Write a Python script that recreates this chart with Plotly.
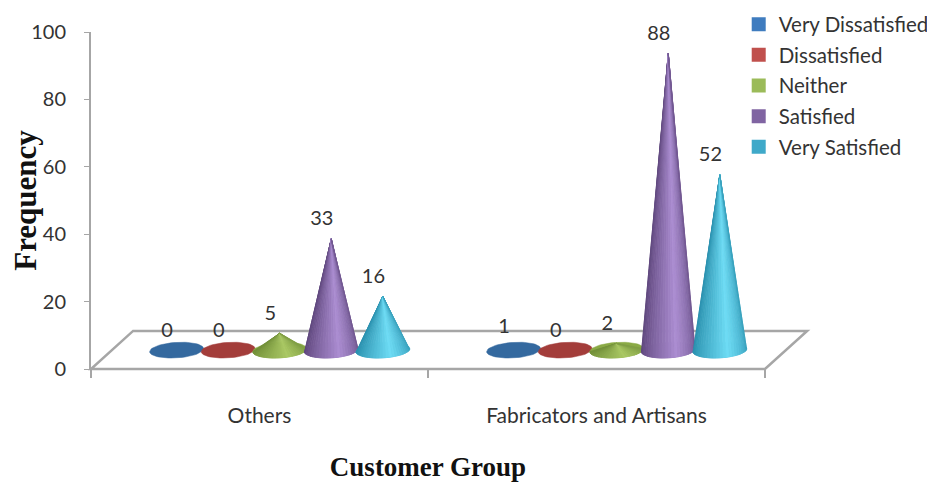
import math
import plotly.graph_objects as go

categories = ["Others", "Fabricators and Artisans"]
series_names = ["Very Dissatisfied", "Dissatisfied", "Neither", "Satisfied", "Very Satisfied"]
very_dissatisfied = [0, 1]
dissatisfied = [0, 0]
neither = [5, 2]
satisfied = [33, 88]
very_satisfied = [16, 52]
y_ticks = [0, 20, 40, 60, 80, 100]
series_values = [very_dissatisfied, dissatisfied, neither, satisfied, very_satisfied]

legend_colors = ["#3f7cbf", "#c0504d", "#9bbb59", "#8064a2", "#3fa9c9"]
dark_colors = [(45, 92, 145), (148, 52, 50), (112, 142, 56), (92, 68, 122), (38, 140, 170)]
light_colors = [(58, 112, 170), (176, 66, 62), (170, 200, 100), (172, 142, 210), (110, 220, 245)]
flat_colors = ["#34699f", "#a33d3a", "#8aaa45", "#7d5fa0", "#35a5c5"]

X_RANGE = [-0.5, 1.5]
Y_RANGE = [0, 100]
BASE = 5.6       # base centre of the cones above the axis, y units
DEPTH_Y = 11.3   # floor depth, y units
DEPTH_X = 0.125  # floor depth, category units
STEP = 0.153     # distance between cones, category units
SHEAR = 0.06     # cone group offset caused by the 3-D view
LABEL_SHIFT = -0.028
RX = 0.08
RY = 2.3
TILT = 0.45
N = 26
GRAY = "#a6a6a6"


def mix(a, b, f):
    return "rgb(%d,%d,%d)" % tuple(round(a[i] + (b[i] - a[i]) * f) for i in range(3))


fig = go.Figure()

# floor of the 3-D chart: paper-referenced so that it may leave the plot area
dx = DEPTH_X / (X_RANGE[1] - X_RANGE[0])
dy = DEPTH_Y / (Y_RANGE[1] - Y_RANGE[0])
fig.add_shape(
    type="path", xref="paper", yref="paper", layer="below",
    path=f"M 0 0 L 1 0 L {1 + dx} {dy} L {dx} {dy} Z",
    line=dict(color=GRAY, width=2.5),
)


def ellipse_point(cx, t):
    return (cx + RX * math.cos(t), BASE + RY * math.sin(t) + TILT * math.cos(t))


for g in range(len(categories)):
    for s, values in enumerate(series_values):
        v = values[g]
        cx = g + SHEAR + (s - 2) * STEP
        pts = [ellipse_point(cx, 2 * math.pi * i / 60) for i in range(61)]
        fig.add_trace(go.Scatter(
            x=[p[0] for p in pts], y=[p[1] for p in pts], mode="lines", fill="toself",
            fillcolor=flat_colors[s], line=dict(color=flat_colors[s], width=0.5),
            showlegend=False, hoverinfo="skip",
        ))
        if v >= 2:
            for i in range(N):
                t0 = math.pi + math.pi * i / N
                t1 = math.pi + math.pi * (i + 1) / N
                p0, p1 = ellipse_point(cx, t0), ellipse_point(cx, t1)
                u = (i + 0.5) / N
                f = max(0.0, 1 - abs(u - 0.6) / 0.6) ** 1.3
                c = mix(dark_colors[s], light_colors[s], f)
                fig.add_trace(go.Scatter(
                    x=[cx, p0[0], p1[0], cx], y=[BASE + v, p0[1], p1[1], BASE + v],
                    mode="lines", fill="toself", fillcolor=c, line=dict(color=c, width=0.8),
                    showlegend=False, hoverinfo="skip",
                ))
        fig.add_trace(go.Scatter(
            x=[cx + LABEL_SHIFT], y=[BASE + v + 5.5], mode="text", text=[str(v)],
            textposition="middle center",
            textfont=dict(family="Lato", size=20, color="#333333"),
            showlegend=False, hoverinfo="skip", cliponaxis=False,
        ))

# legend entries
for s, name in enumerate(series_names):
    fig.add_trace(go.Scatter(
        x=[None], y=[None], mode="markers", name=name, legendgroup=name,
        marker=dict(symbol="square", size=14, color=legend_colors[s]),
    ))

fig.update_layout(
    width=927, height=476, paper_bgcolor="white", plot_bgcolor="white",
    margin=dict(l=83, r=170, t=24, b=115, autoexpand=False),
    font=dict(family="Lato", size=20, color="#333333"),
    legend=dict(x=0.961, xanchor="left", y=1.082, yanchor="top", tracegroupgap=1,
                bgcolor="rgba(0,0,0,0)", font=dict(family="Lato", size=20.5, color="#333333")),
    xaxis=dict(
        range=X_RANGE, tickvals=[0, 1], ticktext=categories, showgrid=False, zeroline=False,
        showline=False, ticks="", ticklabelstandoff=32, automargin=False,
        tickfont=dict(family="Lato", size=21, color="#333333"),
        minor=dict(tickvals=[-0.5, 0.5, 1.5], ticks="outside", ticklen=8, tickcolor=GRAY, tickwidth=2),
        title=dict(text="<b>Customer Group</b>", standoff=31,
                   font=dict(family="Liberation Serif", size=27, color="#111111")),
    ),
    yaxis=dict(
        range=Y_RANGE, tickvals=y_ticks, showgrid=False, zeroline=False, showline=True,
        linecolor=GRAY, linewidth=2, ticks="outside", ticklen=5, tickcolor=GRAY, tickwidth=1,
        ticklabelstandoff=14, automargin=False,
        title=dict(text="<b>Frequency</b>", standoff=4,
                   font=dict(family="Liberation Serif", size=31, color="#111111")),
    ),
)
fig.write_html("out.html")
